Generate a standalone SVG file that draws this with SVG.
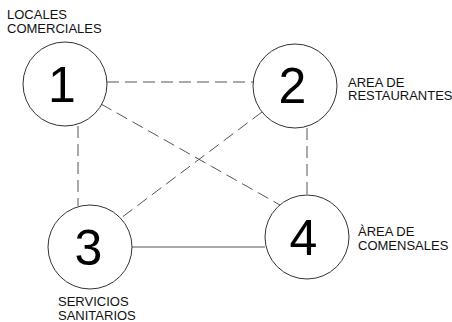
<svg xmlns="http://www.w3.org/2000/svg" width="452" height="322" viewBox="0 0 452 322">
<style>
.node circle{fill:#fff;stroke:#333;stroke-width:1}
.num{font-family:"Liberation Sans",Arial,sans-serif;font-size:50px;fill:#000;text-anchor:middle}
.lbl{font-family:"Liberation Sans",Arial,sans-serif;font-size:13px;fill:#111}
.conn line{stroke:#555;stroke-width:1;fill:none}
.dash{stroke-dasharray:12 6}
</style>
<rect width="452" height="322" fill="#fff"/>
<g id="connectors" class="conn">
<line class="dash" x1="107" y1="82" x2="253" y2="82"/>
<line class="dash" x1="78" y1="126" x2="78" y2="206"/>
<line class="dash" x1="101" y1="104" x2="280" y2="205"/>
<line class="dash" x1="262" y1="112" x2="121" y2="218"/>
<line class="dash" x1="307" y1="128" x2="307" y2="195"/>
<line x1="132" y1="247" x2="265" y2="247"/>
</g>
<g id="node1" class="node">
<circle cx="65" cy="84" r="42"/>
<text class="num" x="62" y="102">1</text>
<text class="lbl" x="7" y="19">LOCALES</text>
<text class="lbl" x="7" y="33">COMERCIALES</text>
</g>
<g id="node2" class="node">
<circle cx="295" cy="86" r="42"/>
<text class="num" x="292.5" y="103">2</text>
<text class="lbl" x="348" y="86.5">AREA DE</text>
<text class="lbl" x="348" y="100">RESTAURANTES</text>
</g>
<g id="node3" class="node">
<circle cx="90" cy="247" r="42"/>
<text class="num" x="88.5" y="265">3</text>
<text class="lbl" x="58" y="306">SERVICIOS</text>
<text class="lbl" x="58" y="320">SANITARIOS</text>
</g>
<g id="node4" class="node">
<circle cx="307" cy="237" r="42"/>
<text class="num" x="303.5" y="255">4</text>
<text class="lbl" x="358" y="236">ÀREA DE</text>
<text class="lbl" x="358" y="250">COMENSALES</text>
</g>
</svg>
